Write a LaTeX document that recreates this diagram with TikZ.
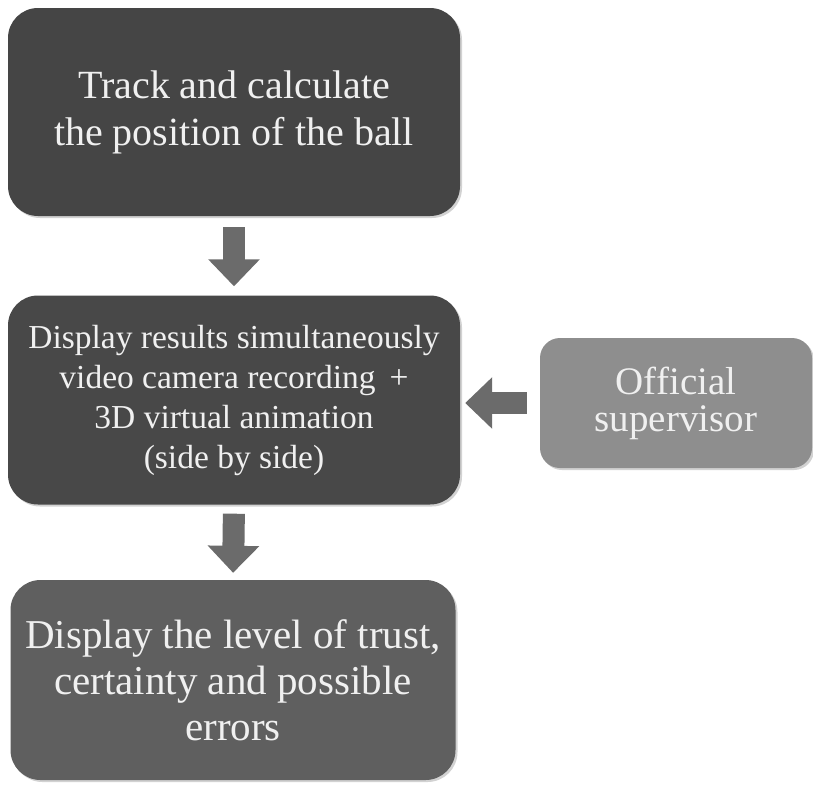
\documentclass[tikz,border=0pt]{standalone}
\usepackage{fontspec}
\setmainfont{Liberation Serif}
\usetikzlibrary{arrows.meta,shadows}
\definecolor{boxA}{HTML}{454545}
\definecolor{boxB}{HTML}{484848}
\definecolor{boxC}{HTML}{5F5F5F}
\definecolor{boxD}{HTML}{8E8E8E}
\definecolor{arrowgray}{HTML}{6B6B6B}
\tikzset{
  stagebox/.style={rounded corners=30pt, draw=none, align=center,
    text=white!94!black, inner sep=0pt,
    drop shadow={shadow xshift=2pt, shadow yshift=-2pt, opacity=0.35}},
  blockarrow/.style={draw=arrowgray, line width=22pt,
    -{Triangle[width=50pt,length=27pt,fill=arrowgray]}},
}
\begin{document}
\begin{tikzpicture}[x=1pt,y=-1pt]
  \useasboundingbox[fill=white] (0,0) rectangle (813,785);

  % processing stages
  \node[stagebox, fill=boxA, minimum width=452pt, minimum height=208pt,
        font=\fontsize{40}{47}\selectfont] (track) at (234,112)
        {Track and calculate\\the position of the ball};

  \node[stagebox, fill=boxB, minimum width=452pt, minimum height=209pt,
        font=\fontsize{33.5}{40}\selectfont] (show) at (234,400)
        {Display results simultaneously\\video camera recording \,+\\3D virtual animation\\(side by side)};

  \node[stagebox, fill=boxC, minimum width=445pt, minimum height=200pt,
        font=\fontsize{41}{46}\selectfont] (trust) at (233,680)
        {Display the level of trust,\\certainty and possible\\errors};

  % external input
  \node[stagebox, rounded corners=20pt, fill=boxD, minimum width=272pt, minimum height=130pt,
        font=\fontsize{39}{37}\selectfont] (official) at (676,403)
        {Official\\supervisor};

  % block arrows between the stages
  \draw[blockarrow, shorten <=11pt, shorten >=9pt] (track.south) -- (show.north);
  \draw[blockarrow, shorten <=9pt, shorten >=7pt] (show.south) -- (trust.north);
  \draw[blockarrow, shorten <=13pt, shorten >=5pt] (official.west) -- (show.east |- official.west);
\end{tikzpicture}
\end{document}
